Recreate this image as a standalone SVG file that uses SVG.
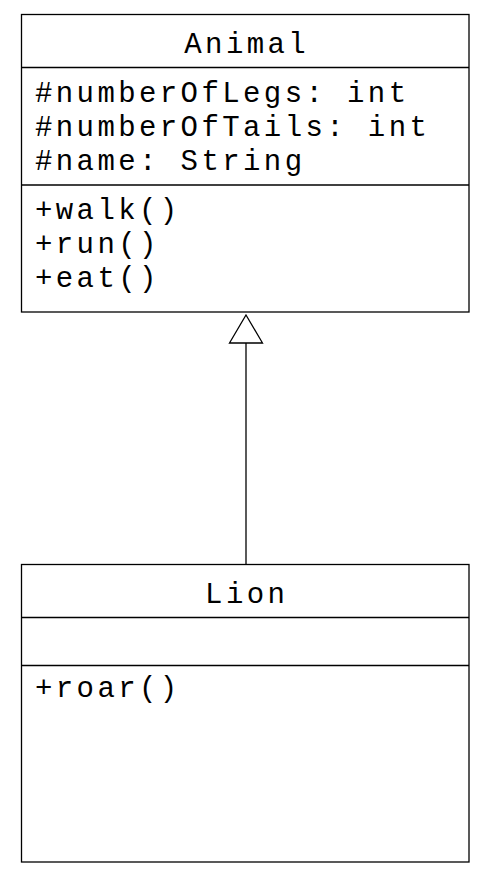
<svg xmlns="http://www.w3.org/2000/svg" width="488" height="885" viewBox="0 0 488 885">
<style>
.box{fill:#fff;stroke:#000;stroke-width:1.3}
.div{stroke:#000;stroke-width:1.3}
text{font-family:"Liberation Mono","Courier New",monospace;font-size:29px;letter-spacing:3.4px;fill:#000}
.c{text-anchor:middle}
</style>
<rect width="488" height="885" fill="#fff"/>
<g id="connectors">
<line x1="246" y1="343" x2="246" y2="564" stroke="#000" stroke-width="1.3"/>
<polygon points="246,315 262.5,343 229.5,343" fill="#fff" stroke="#000" stroke-width="1.3"/>
</g>
<g id="Animal">
<rect class="box" x="21.5" y="14.5" width="447.5" height="297.5"/>
<line class="div" x1="21.5" y1="67.5" x2="469" y2="67.5"/>
<line class="div" x1="21.5" y1="185" x2="469" y2="185"/>
<text class="c" x="246.7" y="53">Animal</text>
<text x="35" y="102">#numberOfLegs: int</text>
<text x="35" y="136">#numberOfTails: int</text>
<text x="35" y="170">#name: String</text>
<text x="35" y="219">+walk()</text>
<text x="35" y="253">+run()</text>
<text x="35" y="287">+eat()</text>
</g>
<g id="Lion">
<rect class="box" x="21.5" y="564.5" width="447.5" height="297.5"/>
<line class="div" x1="21.5" y1="617.5" x2="469" y2="617.5"/>
<line class="div" x1="21.5" y1="665.5" x2="469" y2="665.5"/>
<text class="c" x="246.7" y="603">Lion</text>
<text x="35" y="697">+roar()</text>
</g>
</svg>
